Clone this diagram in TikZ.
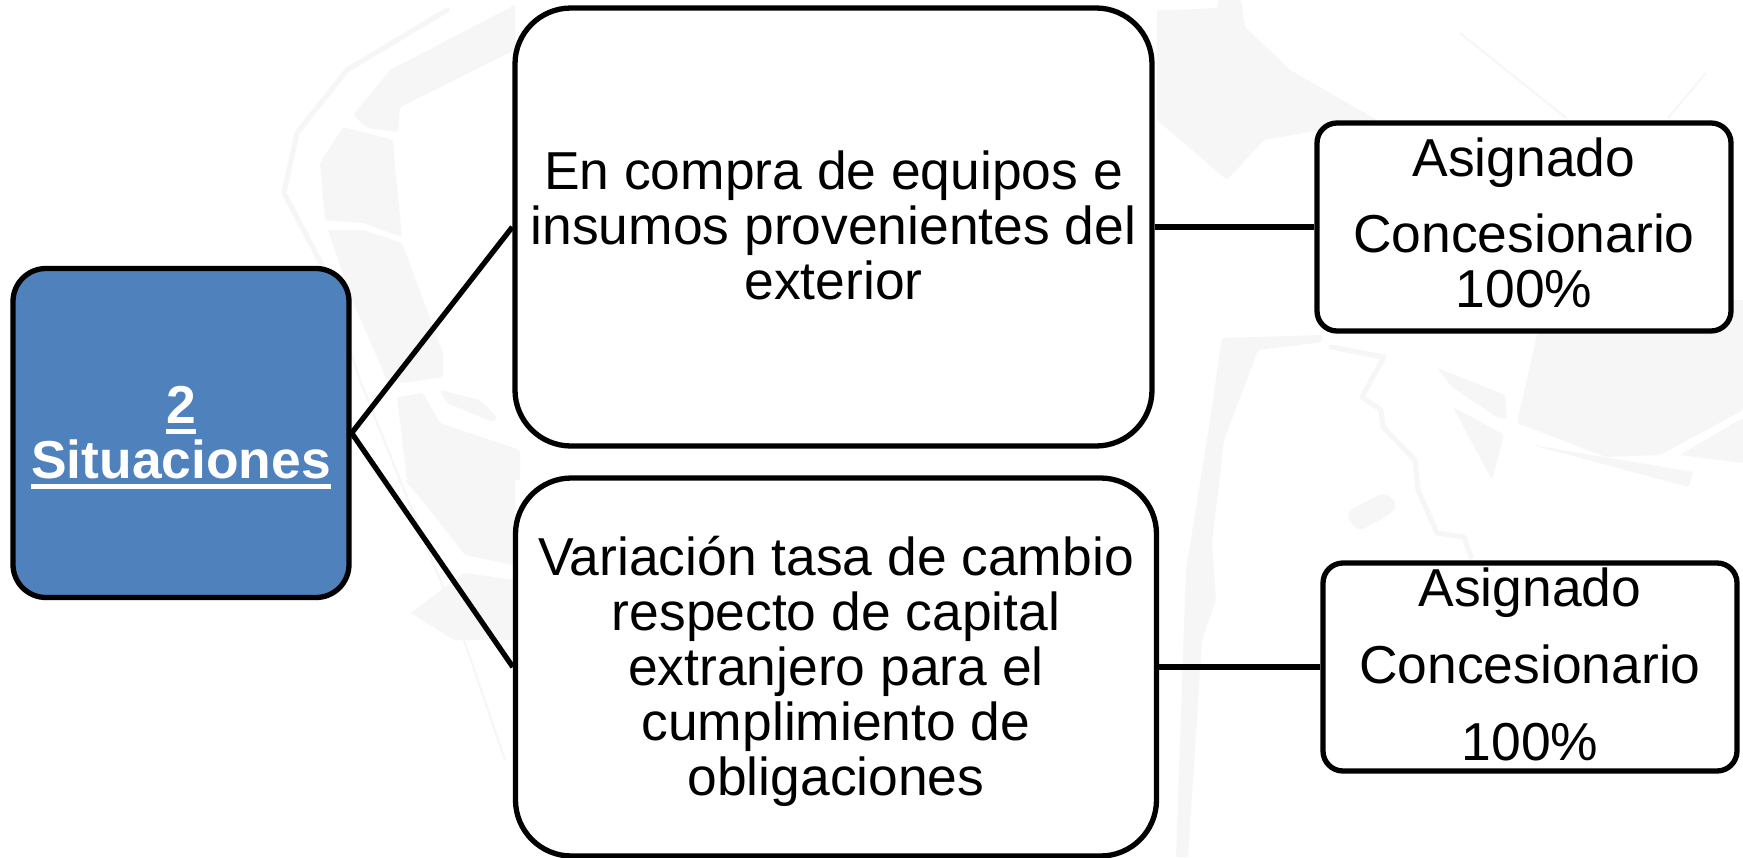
\documentclass[tikz,border=0pt]{standalone}
\usepackage{fontspec}
\setmainfont{Liberation Sans}
\definecolor{boxblue}{RGB}{79,129,189}
\definecolor{wmgray}{RGB}{246,246,246}
\newcommand{\rulert}[1]{\setbox0\hbox{#1}\rlap{\rule[-11pt]{\wd0}{5pt}}\box0}
\newcommand{\lowpad}[1]{\rule[-#1]{0pt}{#1}}
\tikzset{
  box/.style={draw=black,line width=5.3pt,fill=white,rounded corners=#1,inner sep=0pt,align=center,font=\fontsize{53.4}{55}\selectfont},
  link/.style={draw=black,line width=5.3pt},
  wm/.style={fill=wmgray,draw=none,rounded corners=2pt},
  wl/.style={draw=wmgray,line width=5pt,line cap=round,line join=round},
  wt/.style={draw=wmgray,line width=2pt,line cap=round,line join=round}
}
\begin{document}
\begin{tikzpicture}[x=1pt,y=-1pt]
\useasboundingbox (0,0) rectangle (1743,857);
\fill[white] (0,0) rectangle (1743,857);
% faint map watermark
\fill[wm] (1545,300) -- (1517,423) -- (1606,457) -- (1660,455) -- (1743,410) -- (1743,300) -- cycle;
\fill[wm] (1680,455) -- (1743,418) -- (1743,463) -- cycle;
\fill[wm] (1437,368) -- (1505,395) -- (1507,418) -- (1498,418) -- (1452,387) -- cycle;
\fill[wm] (1453,407) -- (1504,435) -- (1492,480) -- cycle;
\fill[wm] (1532,445) -- (1693,472) -- (1689,487) -- cycle;
\fill[wm,rounded corners=8pt] (1345,513) -- (1384,492) -- (1398,503) -- (1392,513) -- (1358,532) -- cycle;
\draw[wl] (1331,347) -- (1384,357) -- (1362,397) -- (1381,410) -- (1383,427) -- (1415,460) -- (1418,490) -- (1437,533) -- (1464,537) -- (1471,557);
\fill[wm] (1222,338) -- (1322,335) -- (1322,342) -- (1258,350) -- (1224,440) -- (1212,543) -- (1216,600) -- (1202,640) -- (1188,857) -- (1176,857) -- (1186,570) -- (1207,440) -- cycle;
\fill[wm] (1173,10) -- (1218,8) -- (1218,0) -- (1241,0) -- (1245,27) -- (1290,70) -- (1377,120) -- (1264,140) -- (1227,180) -- (1157,120) -- (1157,10) -- cycle;
\draw[wt] (1460,33) -- (1566,118);
\draw[wt] (1706,73) -- (1668,118);
\fill[wm] (320,163) -- (343,127) -- (393,140) -- (395,167) -- (402,237) -- (363,223) -- (325,220) -- cycle;
\fill[wm] (328,230) -- (363,230) -- (402,243) -- (443,353) -- (443,377) -- (403,383) -- (387,380) -- (352,300) -- cycle;
\fill[wm] (353,115) -- (390,70) -- (515,5) -- (515,50) -- (400,107) -- (398,132) -- (367,128) -- cycle;
\fill[wm] (397,397) -- (423,393) -- (440,423) -- (520,450) -- (520,480) -- (407,480) -- cycle;
\fill[wm] (440,390) -- (480,400) -- (497,417) -- (493,422) -- (447,403) -- cycle;
\fill[wm] (411,613) -- (464,573) -- (515,580) -- (515,640) -- (454,640) -- cycle;
\fill[wm] (405,480) -- (515,480) -- (515,565) -- (465,555) -- (430,510) -- cycle;
\draw[wl] (447,10) -- (347,70) -- (297,133) -- (284,193) -- (323,267);
\draw[wt] (323,267) -- (360,380) -- (464,640) -- (505,760);
% diagram
\node[box=33pt,fill=boxblue,text=white,minimum width=336pt,minimum height=329pt,font=\fontsize{53.4}{55}\selectfont\bfseries] (sit) at (181,433) {\rule{0pt}{46pt}\rulert{2}\\\rulert{Situaciones}};
\node[box=56pt,minimum width=637pt,minimum height=438pt] (eq) at (833.5,227) {En compra de equipos e\\insumos provenientes del\\exterior\lowpad{4pt}};
\node[box=56pt,minimum width=641pt,minimum height=378pt] (var) at (836,667) {\rule{0pt}{48pt}Variación tasa de cambio\\respecto de capital\\extranjero para el\\cumplimiento de\\obligaciones};
\node[box=20pt,minimum width=414pt,minimum height=208pt] (as1) at (1524,227) {Asignado\\[21pt]Concesionario\\100\%\lowpad{8pt}};
\node[box=20pt,minimum width=414pt,minimum height=208pt] (as2) at (1530,667) {Asignado\\[22pt]Concesionario\\[22pt]100\%\lowpad{5pt}};
\draw[link] (sit.east) -- (eq.west);
\draw[link] (sit.east) -- (var.west);
\draw[link] (eq.east) -- (as1.west);
\draw[link] (var.east) -- (as2.west);
\end{tikzpicture}
\end{document}
